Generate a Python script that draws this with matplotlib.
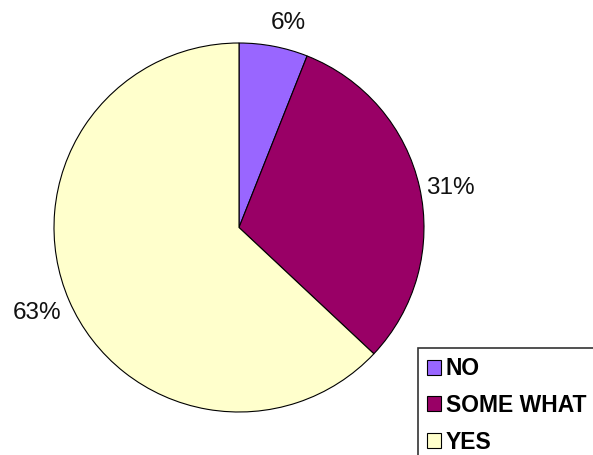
import matplotlib.pyplot as plt

labels = ['NO', 'SOME WHAT', 'YES']
shares = [6, 31, 63]
colors = ['#9966FF', '#990066', '#FFFFCC']

plt.rcParams['font.family'] = ['Liberation Sans', 'DejaVu Sans']

fig = plt.figure(figsize=(5.93, 4.55), dpi=100)
ax = fig.add_axes([54 / 593, 43 / 455, 370 / 593, 369 / 455])

wedges, texts, autotexts = ax.pie(
    shares, colors=colors, startangle=90, counterclock=False,
    autopct='%d%%', pctdistance=1.17, radius=1,
    wedgeprops={'edgecolor': 'black', 'linewidth': 0.8},
    textprops={'fontsize': 17.5, 'color': '#111111'})
ax.set_xlim(-1, 1)
ax.set_ylim(-1, 1)
ax.set_aspect('auto')

# nudge the percentage labels a little outward/down
nudges = [(0.05, -0.04), (0.0, -0.04), (-0.02, 0.0)]
for t, (dx, dy) in zip(autotexts, nudges):
    x, y = t.get_position()
    t.set_position((x + dx, y + dy))
    t.set_clip_on(False)

leg = fig.legend(wedges, labels, loc='upper left',
                 bbox_to_anchor=(418 / 593, 1 - 348 / 455), borderaxespad=0,
                 frameon=True, fancybox=False, edgecolor='black',
                 prop={'weight': 'bold', 'size': 16.5},
                 handlelength=0.62, handleheight=0.62, handletextpad=0.2,
                 labelspacing=0.6, borderpad=0.4)
leg.get_frame().set_linewidth(1.2)

fig.savefig('out.png', dpi=100)
